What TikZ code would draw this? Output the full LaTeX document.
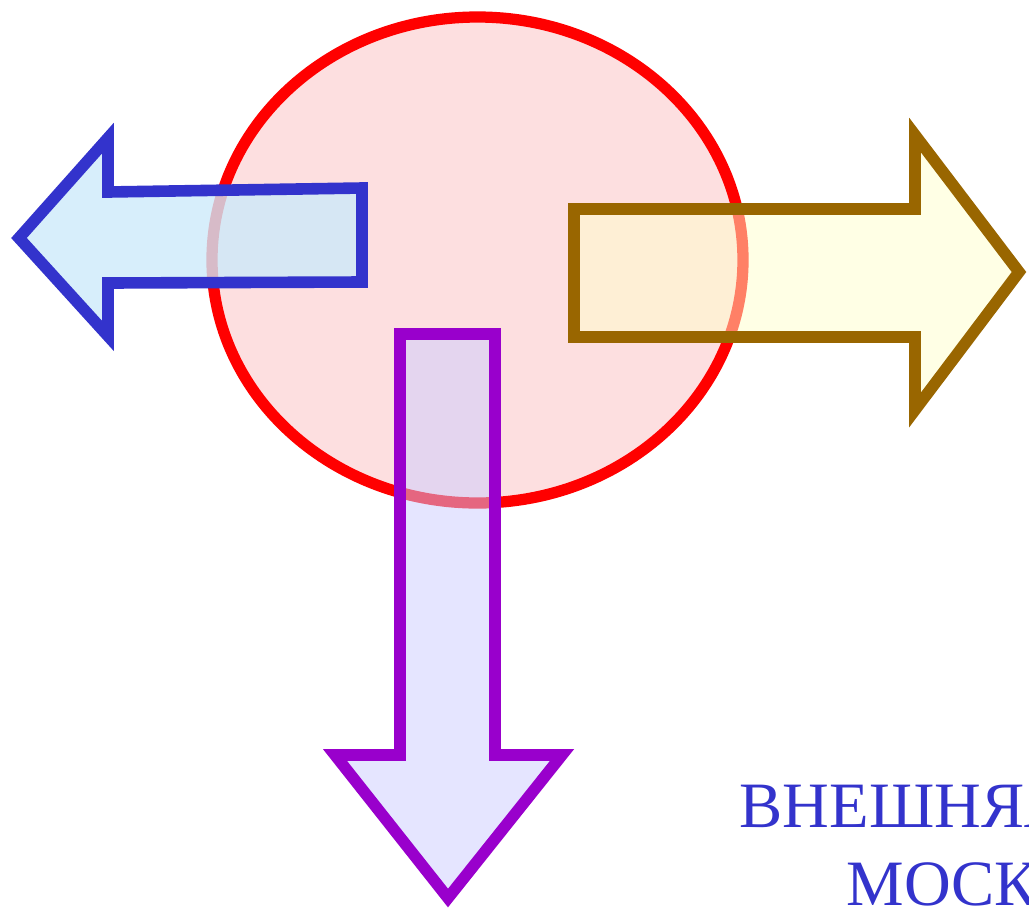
\documentclass[tikz,border=0pt]{standalone}
\usepackage{fontspec}
\setmainfont{Liberation Serif}
\usepackage{tikz}
\definecolor{ovalred}{RGB}{255,0,0}
\definecolor{ovalfill}{RGB}{253,223,224}
\definecolor{leftblue}{RGB}{51,51,204}
\definecolor{leftfill}{RGB}{205,234,250}
\definecolor{rightbrown}{RGB}{153,102,0}
\definecolor{rightfill}{RGB}{255,255,204}
\definecolor{downpurple}{RGB}{153,0,204}
\definecolor{downfill}{RGB}{204,204,255}
\definecolor{textblue}{RGB}{51,51,204}

\begin{document}
\begin{tikzpicture}[x=0.01cm,y=-0.01cm,
          bigarrow/.style={line width=3.3pt,line join=miter},
          lbl/.style={anchor=base west,inner sep=0pt,text=textblue,
                      font=\fontsize{18.4}{22}\selectfont}]
        \useasboundingbox (0,0) rectangle (1029,911);
        \draw[line width=3.2pt,draw=ovalred,fill=ovalfill]
          (477.5,260) ellipse [x radius=265.5,y radius=243];
        % left arrow
        \draw[bigarrow,draw=leftblue,fill=leftfill,fill opacity=0.8]
          (362,188) -- (108,192) -- (108,138) -- (19,238) -- (108,336)
          -- (108,283) -- (362,282) -- cycle;
        % right arrow
        \draw[bigarrow,draw=rightbrown,fill=rightfill,fill opacity=0.5]
          (574,209) -- (915,209) -- (915,135) -- (1019,272) -- (915,410)
          -- (915,337) -- (574,337) -- cycle;
        % down arrow
        \draw[bigarrow,draw=downpurple,fill=downfill,fill opacity=0.5]
          (400,334) -- (495,334) -- (495,755) -- (562,755) -- (448,898)
          -- (335,755) -- (400,755) -- cycle;
        \node[lbl] (top) at (739,827) {ВНЕШНЯЯ};
        \node[lbl] (bot) at (846,905) {МОСК};
      \end{tikzpicture}
\end{document}
